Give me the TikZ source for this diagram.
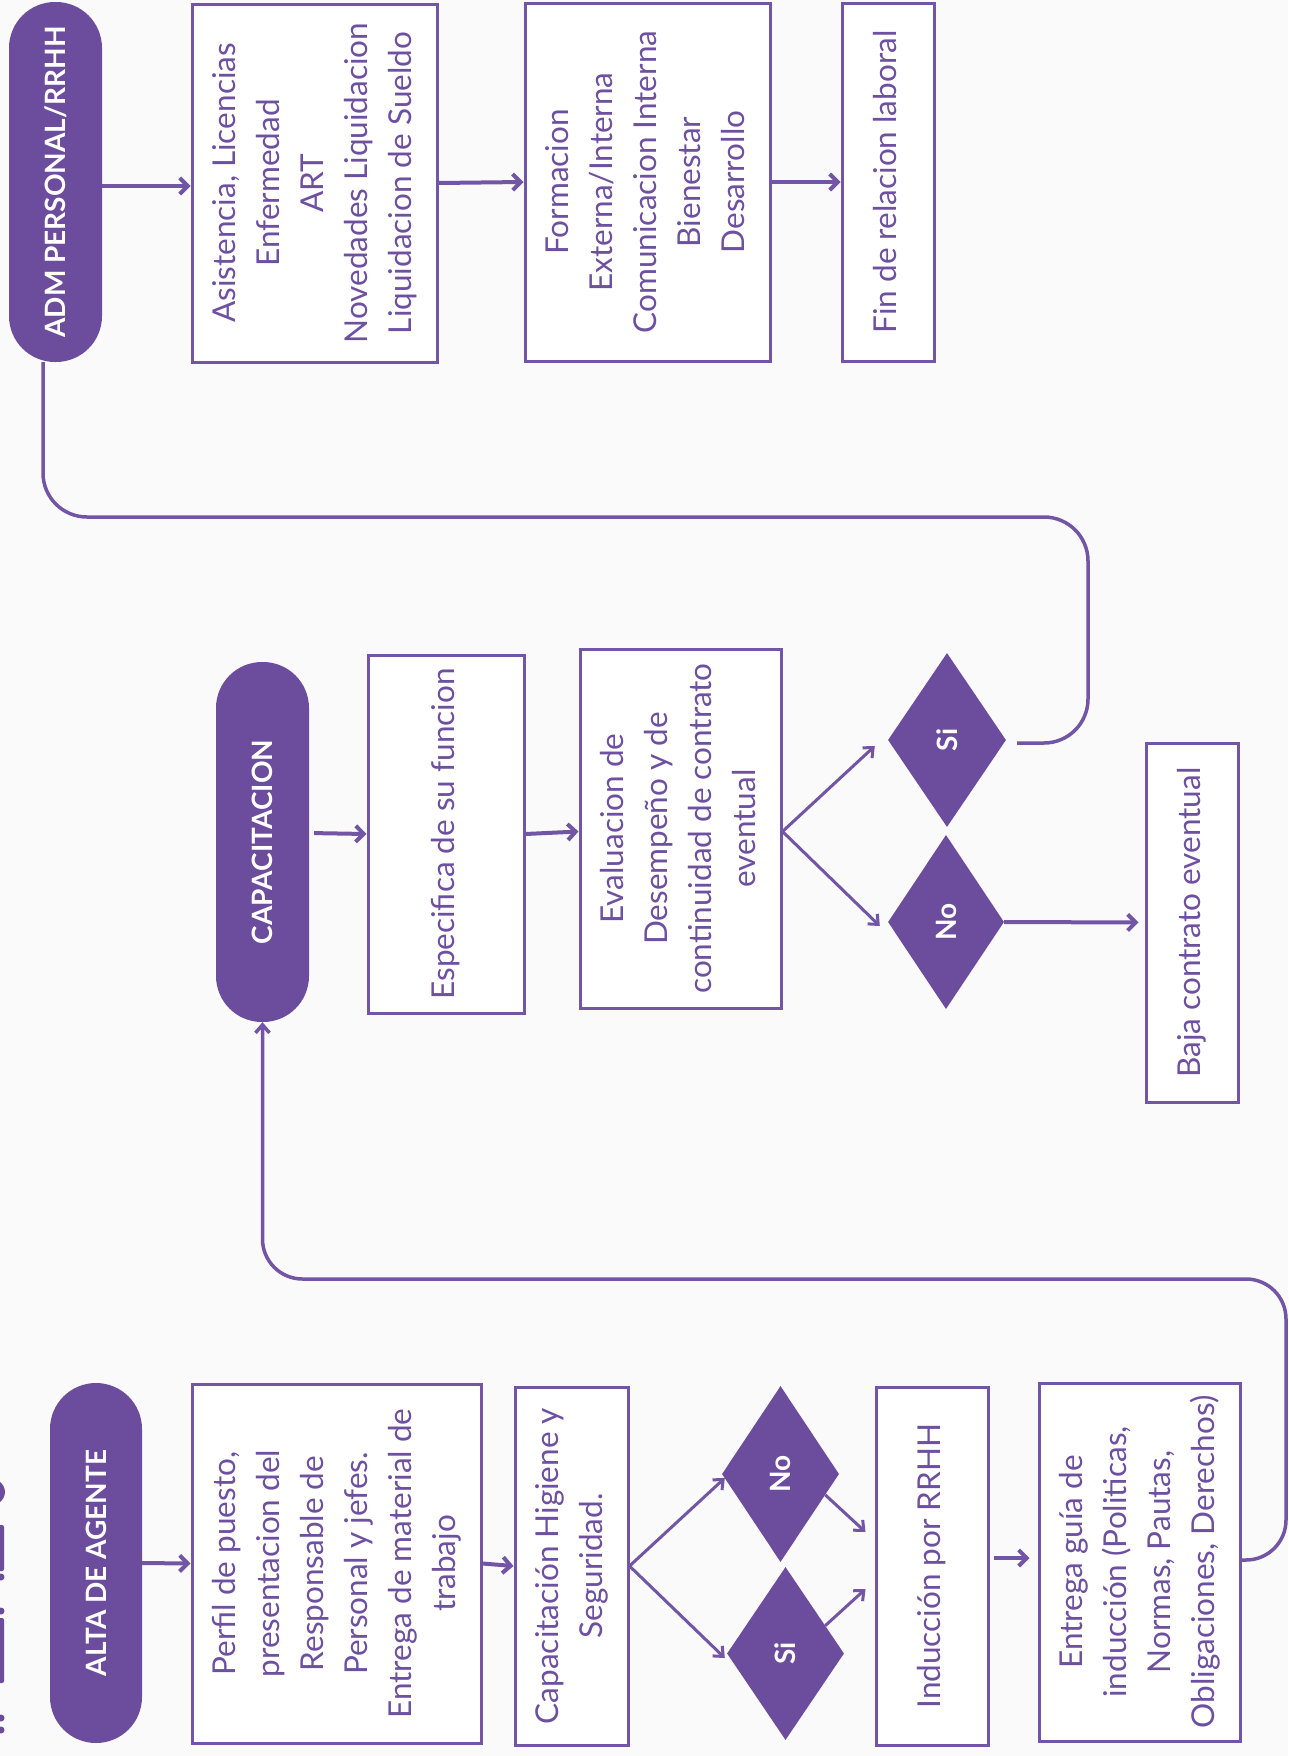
\documentclass[tikz,border=0pt]{standalone}
\usepackage{fontspec}
\usepackage{graphicx}
\setmainfont{Lato}
\usetikzlibrary{shapes.geometric,arrows.meta}
\definecolor{pfill}{RGB}{108,76,156}
\definecolor{pline}{RGB}{115,85,165}
\definecolor{ptext}{RGB}{110,80,160}
\definecolor{bgc}{RGB}{250,250,250}
\newcommand{\vtxt}[1]{\rotatebox{90}{\fontsize{31.5}{44}\selectfont\begin{tabular}{@{}c@{}}#1\end{tabular}}}
\newcommand{\vbold}[1]{\rotatebox{90}{\fontsize{28}{34}\selectfont\bfseries #1}}
\begin{document}
\begin{tikzpicture}[x=1pt,y=-1pt,
  box/.style={draw=pline,line width=3pt,fill=white,inner sep=0pt,text=ptext},
  pill/.style={fill=pfill,rounded corners=46pt,inner sep=0pt,text=white},
  dia/.style={diamond,fill=pfill,inner sep=0pt,text=white},
  arr/.style={draw=pline,line width=4pt,-{Straight Barb[length=8pt,width=16pt]}},
  darr/.style={draw=pline,line width=3pt,-{Straight Barb[length=8pt,width=14pt]}},
  conn/.style={draw=pline,line width=3.5pt,rounded corners=44pt}]
\useasboundingbox (0,0) rectangle (1288,1756);
\fill[bgc] (0,0) rectangle (1288,1756);

% cut-off title fragments at the left edge
\fill[pfill] (-14,1492) ellipse [x radius=19pt, y radius=15pt];
\fill[pfill,rounded corners=2pt] (-10,1525) rectangle (4,1571);
\fill[pfill] (1,1577) circle [radius=3.5pt];
\fill[pfill] (1,1611) circle [radius=3.5pt];
\fill[pfill,rounded corners=2pt] (-10,1618) rectangle (4,1683);
\fill[pfill] (1,1718) circle [radius=3.5pt];
\fill[pfill] (1,1730) circle [radius=3.5pt];

% top row
\node[pill,minimum width=93pt,minimum height=360pt] (adm) at (55.5,182) {\vbold{ADM PERSONAL/RRHH}};
\node[box,minimum width=245pt,minimum height=358pt] (b1) at (314.5,183)
  {\vtxt{Asistencia, Licencias\\Enfermedad\\ART\\Novedades Liquidacion\\Liquidacion de Sueldo}};
\node[box,minimum width=245pt,minimum height=358pt] (b2) at (647.5,182)
  {\vtxt{Formacion\\Externa/Interna\\Comunicacion Interna\\Bienestar\\Desarrollo}};
\node[box,minimum width=92pt,minimum height=358pt] (b3) at (888,182)
  {\vtxt{Fin de relacion laboral}};

% middle row
\node[pill,minimum width=93pt,minimum height=360pt] (cap) at (262.5,842) {\vbold{CAPACITACION}};
\node[box,minimum width=156pt,minimum height=358pt] (b4) at (446,834)
  {\vtxt{Especifica de su funcion}};
\node[box,minimum width=201pt,minimum height=359pt] (b5) at (680.5,828.5)
  {\vtxt{Evaluacion de\\Desempeño y de\\continuidad de contrato\\eventual}};
\node[dia,minimum width=118pt,minimum height=174pt] (dsi1) at (947,740) {\vbold{Si}};
\node[dia,minimum width=116pt,minimum height=174pt] (dno1) at (946,922) {\vbold{No}};
\node[box,minimum width=92pt,minimum height=359pt] (b6) at (1192,922.5)
  {\vtxt{Baja contrato eventual}};

% bottom row
\node[pill,minimum width=92pt,minimum height=360pt] (alta) at (96,1563) {\vbold{ALTA DE AGENTE}};
\node[box,minimum width=289pt,minimum height=359pt] (b7) at (336.5,1563.5)
  {\vtxt{Perfil de puesto,\\presentacion del\\Responsable de\\Personal y jefes.\\Entrega de material de\\trabajo}};
\node[box,minimum width=113pt,minimum height=358pt] (b8) at (571.5,1566)
  {\vtxt{Capacitación Higiene y\\Seguridad.}};
\node[dia,minimum width=117pt,minimum height=176pt] (dno2) at (780.5,1474) {\vbold{No}};
\node[dia,minimum width=117pt,minimum height=173pt] (dsi2) at (785.5,1653.5) {\vbold{Si}};
\node[box,minimum width=112pt,minimum height=358pt] (b9) at (932,1566)
  {\vtxt{Inducción por RRHH}};
\node[box,minimum width=201pt,minimum height=358pt] (b10) at (1139.5,1562)
  {\vtxt{Entrega guía de\\inducción (Politicas,\\Normas, Pautas,\\Obligaciones, Derechos)}};

% connectors top
\draw[arr] ([yshift=-4pt]adm.east) -- ([yshift=-3pt]b1.west);
\draw[arr] (b1.east) -- (b2.west);
\draw[arr] (b2.east) -- (b3.west);

% connectors middle
\draw[arr,shorten <=5pt] ([yshift=9pt]cap.east) -- (b4.west);
\draw[arr] (b4.east) -- ([yshift=-3pt]b5.west);
\draw[darr] ([yshift=-3pt]b5.east) -- ([xshift=-13pt,yshift=-6pt]dsi1.west);
\draw[darr] ([yshift=-3pt]b5.east) -- ([xshift=-8pt,yshift=-4pt]dno1.west);
\draw[arr,shorten >=6pt] (dno1.east) -- (b6.west);
\draw[conn] ([xshift=11pt,yshift=-3pt]dsi1.east) -| (1088,517) -| ([xshift=-12.5pt]adm.south);

% connectors bottom
\draw[arr] (alta.east) -- (b7.west);
\draw[arr] (b7.east) -- (b8.west);
\draw[darr] (b8.east) -- ([xshift=3pt,yshift=-4pt]dno2.west);
\draw[darr] (b8.east) -- ([xshift=-2pt,yshift=-4.5pt]dsi2.west);
\draw[darr] (dno2.-25) -- ([xshift=-9pt,yshift=34pt]b9.west);
\draw[darr] (dsi2.35) -- ([xshift=-9pt,yshift=-23pt]b9.west);
\draw[arr,shorten <=4pt,shorten >=8pt] ([yshift=8pt]b9.east) -- ([yshift=4pt]b10.west);
\draw[conn,rounded corners=40pt,-{Straight Barb[length=8pt,width=14pt]}] ([yshift=2pt]b10.east) -| (1286,1279) -| (cap.south);
\end{tikzpicture}
\end{document}
